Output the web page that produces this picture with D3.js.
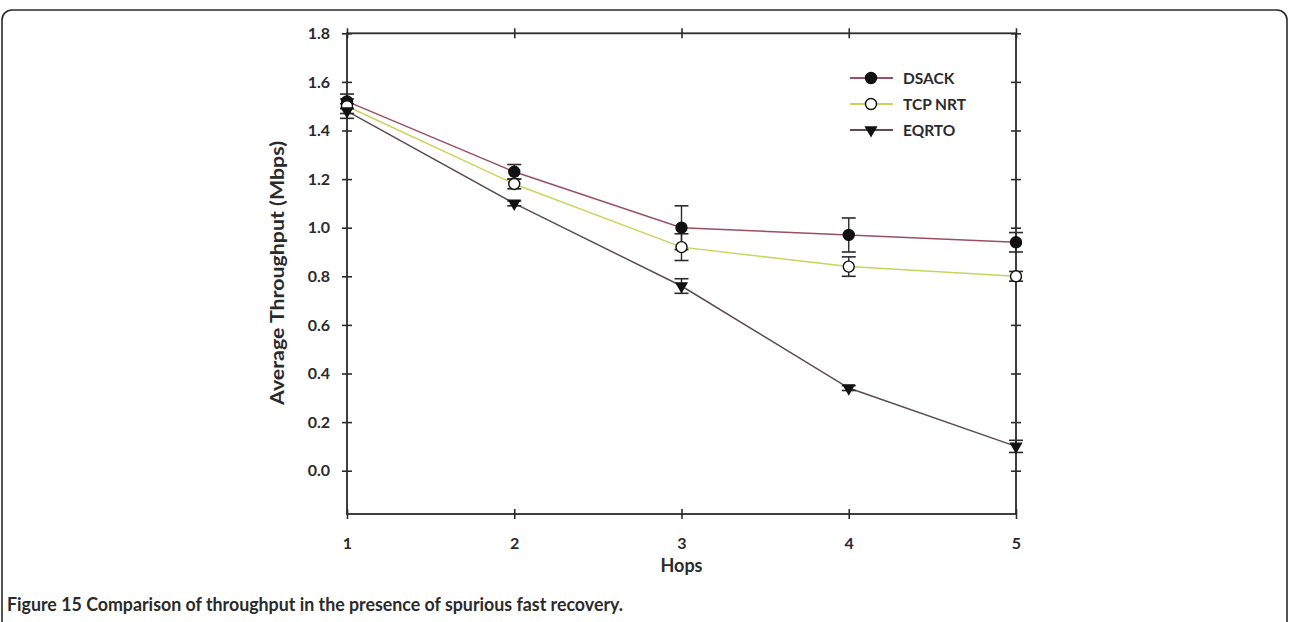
<!DOCTYPE html>
<html><head><meta charset="utf-8">
<script src="https://cdn.jsdelivr.net/npm/d3@7"></script>
<style>body{margin:0;background:#fff}svg{display:block}</style>
</head><body>
<svg id="c" width="1290" height="622"></svg>
<script>
const hops = [1, 2, 3, 4, 5];
const yTicks = [0.0, 0.2, 0.4, 0.6, 0.8, 1.0, 1.2, 1.4, 1.6, 1.8];
const seriesNames = ["DSACK", "TCP NRT", "EQRTO"];
const dsack = [1.52, 1.23, 1.00, 0.97, 0.94];
const dsackErr = [0.03, 0.03, 0.09, 0.07, 0.04];
const tcpNrt = [1.50, 1.18, 0.92, 0.84, 0.80];
const tcpNrtErr = [0.03, 0.02, 0.055, 0.04, 0.02];
const eqrto = [1.48, 1.10, 0.76, 0.34, 0.10];
const eqrtoErr = [0.03, 0.01, 0.03, 0.01, 0.025];
const caption = "Figure 15 Comparison of throughput in the presence of spurious fast recovery.";

const series = [
  {name: seriesNames[0], vals: dsack, err: dsackErr, color: "#9a4f62", marker: "fill"},
  {name: seriesNames[1], vals: tcpNrt, err: tcpNrtErr, color: "#c6d65a", marker: "open"},
  {name: seriesNames[2], vals: eqrto, err: eqrtoErr, color: "#5e4b55", marker: "tri"}
];

const svg = d3.select("#c");
const font = "Lato, 'Open Sans', sans-serif";
const ink = "#2b2b2b";

// frame
svg.append("rect").attr("x", 2).attr("y", 10).attr("width", 1285).attr("height", 640)
  .attr("rx", 10).attr("fill", "none").attr("stroke", ink).attr("stroke-width", 1.6);

const L = 347, R = 1016, T = 33.3, B = 514;
const x = d3.scaleLinear().domain([1, 5]).range([L, R]);
const y = d3.scaleLinear().domain([0, 1.8]).range([470.7, T]);

const g = svg.append("g");
function styleAx(sel) {
  sel.select(".domain").remove();
  sel.selectAll(".tick line").attr("stroke", ink).attr("stroke-width", 1.6);
  sel.selectAll(".tick text").attr("fill", ink).style("font-family", font).style("font-weight", "bold").style("font-size", "16px");
}
// ticks crossing each side of the box
g.append("g").attr("transform", `translate(${L},0)`)
  .call(d3.axisLeft(y).tickValues(yTicks).tickFormat(d3.format(".1f")).tickSizeInner(5).tickSizeOuter(0).tickPadding(12)).call(styleAx);
g.append("g").attr("transform", `translate(${L},0)`)
  .call(d3.axisRight(y).tickValues(yTicks).tickFormat("").tickSizeInner(5).tickSizeOuter(0)).call(styleAx);
g.append("g").attr("transform", `translate(${R},0)`)
  .call(d3.axisRight(y).tickValues(yTicks).tickFormat("").tickSizeInner(5).tickSizeOuter(0)).call(styleAx);
g.append("g").attr("transform", `translate(${R},0)`)
  .call(d3.axisLeft(y).tickValues(yTicks).tickFormat("").tickSizeInner(5).tickSizeOuter(0)).call(styleAx);
g.append("g").attr("transform", `translate(0,${B})`)
  .call(d3.axisBottom(x).tickValues(hops).tickFormat(d3.format("d")).tickSizeInner(5).tickSizeOuter(0).tickPadding(19)).call(styleAx);
g.append("g").attr("transform", `translate(0,${B})`)
  .call(d3.axisTop(x).tickValues(hops).tickFormat("").tickSizeInner(5).tickSizeOuter(0)).call(styleAx);
g.append("g").attr("transform", `translate(0,${T})`)
  .call(d3.axisTop(x).tickValues(hops).tickFormat("").tickSizeInner(5).tickSizeOuter(0)).call(styleAx);
g.append("g").attr("transform", `translate(0,${T})`)
  .call(d3.axisBottom(x).tickValues(hops).tickFormat("").tickSizeInner(5).tickSizeOuter(0)).call(styleAx);

g.append("rect").attr("x", L).attr("y", T).attr("width", R - L).attr("height", B - T)
  .attr("fill", "none").attr("stroke", ink).attr("stroke-width", 1.8);

// lines
const line = d3.line().x((d, i) => x(hops[i])).y(d => y(d));
series.forEach(s => {
  svg.append("path").datum(s.vals).attr("d", line).attr("fill", "none")
    .attr("stroke", s.color).attr("stroke-width", 1.5);
});

// error bars
series.forEach(s => {
  const eg = svg.append("g");
  s.vals.forEach((v, i) => {
    const cx = x(hops[i]), e = s.err[i];
    eg.append("line").attr("x1", cx).attr("x2", cx).attr("y1", y(v + e)).attr("y2", y(v - e)).attr("stroke", ink).attr("stroke-width", 1.4);
    [v + e, v - e].forEach(c => eg.append("line").attr("x1", cx - 7).attr("x2", cx + 7).attr("y1", y(c)).attr("y2", y(c)).attr("stroke", ink).attr("stroke-width", 1.6));
  });
});

function marker(sel, type, cx, cy) {
  if (type === "tri") {
    sel.append("path").attr("d", d3.symbol().type(d3.symbolTriangle).size(75)())
      .attr("transform", `translate(${cx},${cy}) rotate(180)`).attr("fill", "#111");
  } else {
    sel.append("circle").attr("cx", cx).attr("cy", cy).attr("r", 5.5)
      .attr("fill", type === "fill" ? "#111" : "#fff").attr("stroke", "#111").attr("stroke-width", 1.4);
  }
}
series.forEach(s => {
  const mg = svg.append("g");
  s.vals.forEach((v, i) => marker(mg, s.marker, x(hops[i]), y(v)));
});

// legend
const legY = [78, 104, 130];
series.forEach((s, i) => {
  const lg = svg.append("g");
  lg.append("line").attr("x1", 850).attr("x2", 893).attr("y1", legY[i]).attr("y2", legY[i]).attr("stroke", s.color).attr("stroke-width", 1.8);
  marker(lg, s.marker, 871, legY[i]);
  lg.append("text").attr("x", 903).attr("y", legY[i] + 5.5).text(s.name)
    .attr("fill", ink).style("font-family", font).style("font-weight", "bold").style("font-size", "15.5px");
});

// axis titles
svg.append("text").attr("transform", "translate(284,273) rotate(-90)").attr("text-anchor", "middle")
  .text("Average Throughput (Mbps)").attr("fill", ink)
  .attr("textLength", 264).attr("lengthAdjust", "spacingAndGlyphs")
  .style("font-family", font).style("font-weight", "bold").style("font-size", "18px");
svg.append("text").attr("x", (L + R) / 2).attr("y", 572).attr("text-anchor", "middle")
  .text("Hops").attr("fill", ink)
  .style("font-family", font).style("font-weight", "bold").style("font-size", "18px");

// caption
svg.append("text").attr("x", 7).attr("y", 611).text(caption).attr("fill", ink)
  .attr("textLength", 616).attr("lengthAdjust", "spacingAndGlyphs")
  .style("font-family", font).style("font-weight", "bold").style("font-size", "18px");
</script>
</body></html>
